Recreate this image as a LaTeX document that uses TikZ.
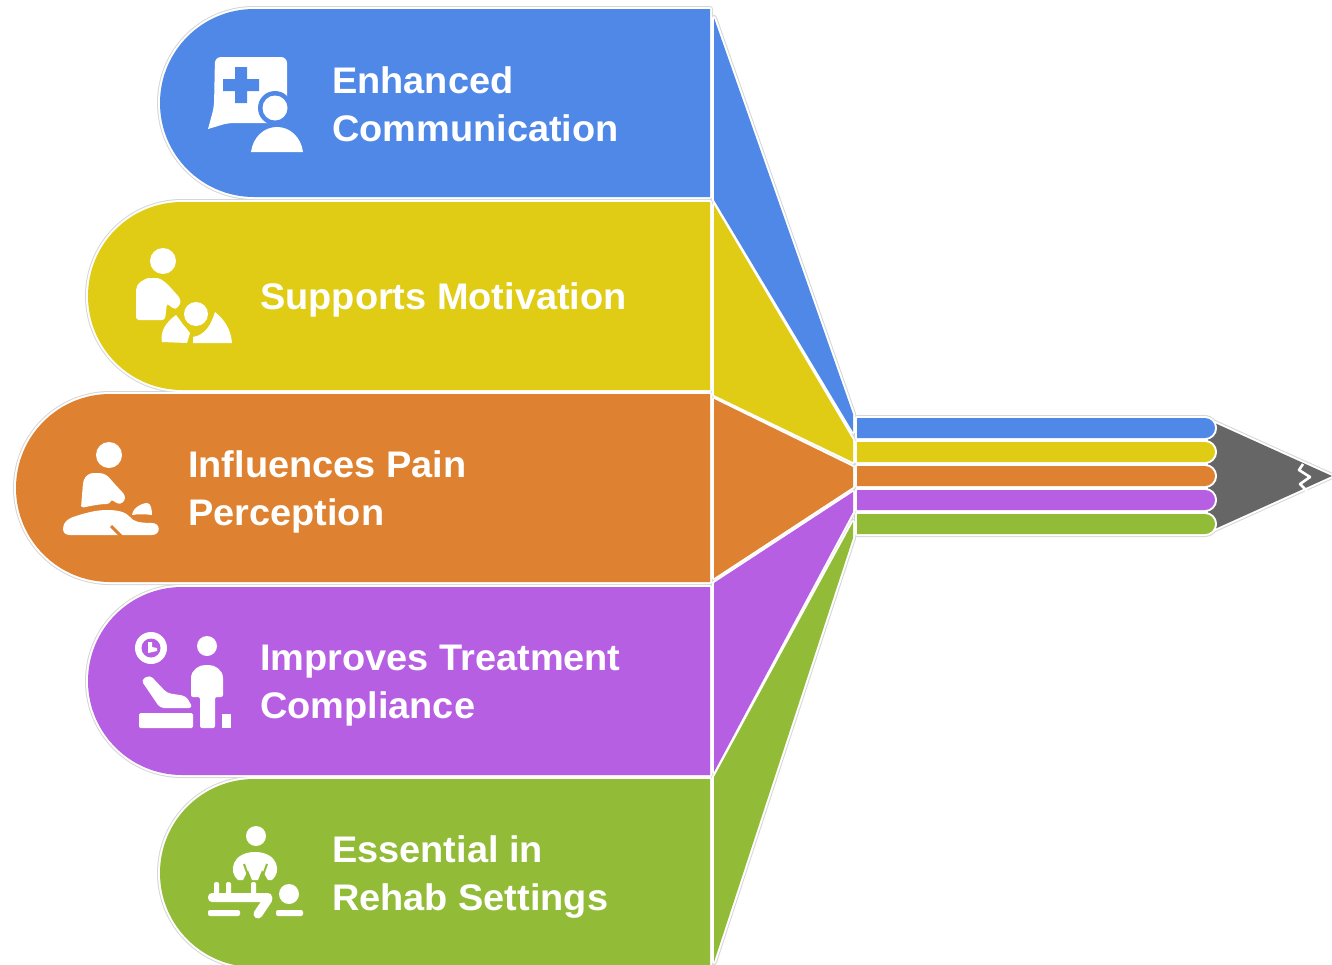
\documentclass[tikz,border=0pt]{standalone}
\usepackage{fontspec}
\setmainfont[FakeStretch=1.025]{Liberation Sans}
\definecolor{cblue}{HTML}{4F88E6}
\definecolor{cyellow}{HTML}{E0CC14}
\definecolor{corange}{HTML}{DE8231}
\definecolor{cpurple}{HTML}{B75FE3}
\definecolor{cgreen}{HTML}{92BC38}
\definecolor{ctip}{HTML}{666666}
\definecolor{cedge}{HTML}{D6D6D6}
\tikzset{
  labeltext/.style={text=white,font=\fontsize{37}{48}\selectfont\bfseries,align=left,anchor=west,inner sep=0pt},
  ic/.style={fill=white,draw=none},
  halo/.style={draw=cedge,line width=6pt,line join=round},
  whalo/.style={draw=white,line width=4pt,line join=round},
}
\def\shapeband#1#2#3{(710,#2) [rounded corners=94pt] -- (#1,#2) -- (#1,#3) [sharp corners] -- (710,#3) -- cycle}
\def\shapebar#1#2{(857,#1) [rounded corners=10pt] -- (1215,#1) -- (1215,#2) [sharp corners] -- (857,#2) -- cycle}
\def\pA{\shapeband{160}{9}{197}}
\def\pB{\shapeband{88}{202}{390}}
\def\pC{\shapeband{16}{394}{582}}
\def\pD{\shapeband{88}{587}{775}}
\def\pE{\shapeband{160}{779}{967}}
\def\fA{(714,18) -- (853,414) -- (853,432) -- (714,200) -- cycle}
\def\fB{(714,205) -- (853,440) -- (853,462) -- (714,395) -- cycle}
\def\fC{(714,399) -- (853,467) -- (853,487) -- (714,578) -- cycle}
\def\fD{(714,583) -- (853,492) -- (853,512) -- (714,772) -- cycle}
\def\fE{(714,777) -- (853,522) -- (853,538) -- (714,962) -- cycle}
\def\bA{\shapebar{418}{438}}
\def\bB{\shapebar{442}{462}}
\def\bC{\shapebar{466}{486}}
\def\bD{\shapebar{490}{510}}
\def\bE{\shapebar{514}{534}}
\def\tipshape{(1208,420) -- (1332,476) -- (1208,532) -- cycle}
\begin{document}
\begin{tikzpicture}[x=1pt,y=-1pt]
\useasboundingbox (0,0) rectangle (1332,964);
% outer edge
\foreach \p in {\pA,\pB,\pC,\pD,\pE,\fA,\fB,\fC,\fD,\fE,\bA,\bB,\bC,\bD,\bE,\tipshape}{\path[halo] \p;}
\foreach \p in {\pA,\pB,\pC,\pD,\pE,\fA,\fB,\fC,\fD,\fE,\tipshape}{\path[whalo] \p;}
% pencil tip
\fill[ctip] \tipshape;
\draw[white,line width=2.6pt,line join=round] (1303,464) -- (1299,470) -- (1310,477) -- (1300,484) -- (1307,491);
% bands
\fill[cblue] \pA; \fill[cyellow] \pB; \fill[corange] \pC; \fill[cpurple] \pD; \fill[cgreen] \pE;
\fill[cblue] \fA; \fill[cyellow] \fB; \fill[corange] \fC; \fill[cpurple] \fD; \fill[cgreen] \fE;
% bars
\foreach \p in {\bA,\bB,\bC,\bD,\bE}{\path[whalo] \p;}
\fill[cblue] \bA; \fill[cyellow] \bB; \fill[corange] \bC; \fill[cpurple] \bD; \fill[cgreen] \bE;
% labels
\node[labeltext] (t1) at (332,104) {Enhanced\\Communication};
\node[labeltext] (t2) at (260,300) {Supports Motivation};
\node[labeltext] (t3) at (188,492) {Influences Pain\\Perception};
\node[labeltext] (t4) at (260,686) {Improves Treatment\\Compliance};
\node[labeltext] (t5) at (332,877) {Essential in\\Rehab Settings};
% icon 1
\fill[ic,rounded corners=6pt] (215,57) -- (287,57) -- (287,123) -- (228,123) [sharp corners] -- (208,129) [rounded corners=6pt] -- (214,107) -- cycle;
\fill[cblue] (241,85) +(-18,-6) rectangle +(18,6) +(-6,-18) rectangle +(6,18);
\fill[cblue] (275,108) circle[radius=17];
\fill[ic] (275,108) circle[radius=12.5];
\fill[cblue] (245,124) rectangle (310,160);
\fill[ic] (251,152) .. controls (253,137) and (264,127) .. (277,127) .. controls (290,127) and (301,137) .. (303,152) -- cycle;
% icon 2
\fill[ic] (163,261) circle[radius=13];
\fill[ic,rounded corners=3pt] (136,320) -- (136,293) .. controls (136,284) and (144,278) .. (153,278) .. controls (163,278) and (170,287) .. (180,298) .. controls (181,305) and (176,309) .. (172,308) -- (167,303) -- (165,320) -- cycle;
\fill[ic] (162,342) .. controls (160,332) and (165,323) .. (176,315) -- (190,333) -- (187,343) -- cycle;
\fill[ic] (193,343) -- (193,337) .. controls (205,335) and (211,325) .. (215,312) .. controls (225,320) and (231,330) .. (232,343) -- cycle;
\fill[cyellow] (196,314) circle[radius=16.5];
\fill[ic] (196,314) circle[radius=12];
% icon 3
\fill[ic] (109,455) circle[radius=13];
\fill[ic,rounded corners=3pt] (81,508) -- (83,483) .. controls (85,476) and (90,473) .. (96,473) .. controls (104,473) and (108,476) .. (112,481) -- (125,495) .. controls (125,502) and (120,504) .. (116,503) -- (111,499) -- (110,504) .. controls (100,504) and (90,506) .. (81,508) -- cycle;
\fill[ic] (63,529) .. controls (63,522) and (68,519) .. (73,517) .. controls (85,513) and (96,510) .. (107,510) .. controls (118,510) and (126,512) .. (130,517) .. controls (133,521) and (138,523) .. (152,523) .. controls (161,523) and (161,535) .. (152,535) -- (70,535) .. controls (66,535) and (63,533) .. (63,529) -- cycle;
\draw[corange,line width=3pt] (111,526) -- (122,537);
\fill[ic] (132,515) .. controls (133,507) and (143,503) .. (147,503) .. controls (151,503) and (152,510) .. (152,515) .. controls (145,514) and (138,514) .. (132,515) -- cycle;
% icon 4
\fill[ic] (151,648) circle[radius=16];
\fill[cpurple] (151,648) circle[radius=9.5];
\fill[ic] (148,642) -- (152,642) -- (152,647) -- (157,648) -- (157,651) -- (148,653) -- cycle;
\fill[ic] (207,646) circle[radius=10];
\fill[ic,rounded corners=2pt] (191,697) -- (191,680) .. controls (191,670) and (199,665) .. (207,665) .. controls (215,665) and (223,670) .. (223,680) -- (223,697) -- (215,697) -- (215,728) -- (200,728) -- (200,697) -- cycle;
\fill[ic] (222,714) rectangle (231,728);
\fill[ic,rounded corners=1.5pt] (139,713) rectangle (193,728);
\fill[ic,rounded corners=4pt] (141,680) -- (150,675) -- (167,693) -- (186,696) -- (193,708) -- (160,708) -- cycle;
% icon 5
\fill[ic] (256,836) circle[radius=10];
\fill[ic] (238,880) .. controls (228,872) and (232,852) .. (255,852) .. controls (278,852) and (282,872) .. (272,880) -- (268,880) -- (262,870) -- (258,880) -- (252,880) -- (248,870) -- (243,880) -- cycle;
\draw[cgreen,line width=2pt] (244,864) -- (249,878) (267,864) -- (262,878);
\fill[ic,rounded corners=2pt] (214,882) rectangle (219,897);
\fill[ic,rounded corners=2pt] (226,882) rectangle (231,897);
\fill[ic,rounded corners=2pt] (251,882) rectangle (256,897);
\fill[ic,rounded corners=4pt] (208,893) -- (272,893) -- (272,902) -- (208,902) -- cycle;
\draw[white,line width=9pt,line cap=round] (268,899) -- (258,914);
\fill[ic] (289,894) circle[radius=10];
\fill[ic,rounded corners=2pt] (208,910) rectangle (240,916);
\fill[ic,rounded corners=2pt] (276,910) rectangle (303,916);
\end{tikzpicture}
\end{document}
